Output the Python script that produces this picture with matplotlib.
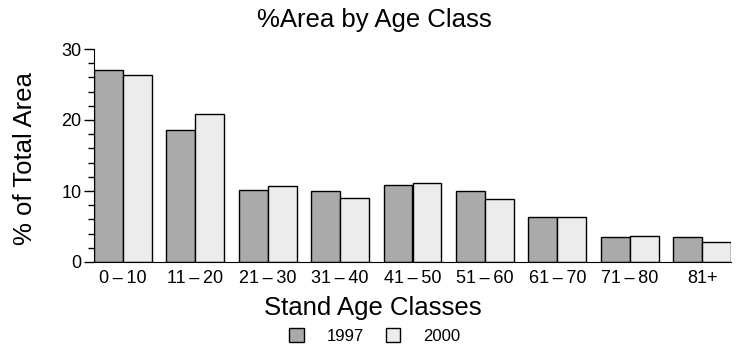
import matplotlib
matplotlib.use("Agg")
import matplotlib.pyplot as plt
import numpy as np
from matplotlib.patches import Patch
from matplotlib.ticker import MultipleLocator

plt.rcParams['font.family'] = ['Liberation Sans', 'DejaVu Sans']

# Datos
clases = ['0\u2009–\u200910', '11\u2009–\u200920', '21\u2009–\u200930', '31\u2009–\u200940',
          '41\u2009–\u200950', '51\u2009–\u200960', '61\u2009–\u200970', '71\u2009–\u200980', '81+']
area_1997 = [27.1, 18.6, 10.1, 10.0, 10.8, 10.0, 6.3, 3.5, 3.5]
area_2000 = [26.4, 20.9, 10.7, 9.0, 11.1, 8.9, 6.4, 3.6, 2.8]
series = ['1997', '2000']

W, H = 750, 350
fig = plt.figure(figsize=(W / 100, H / 100), dpi=100)
ax = fig.add_axes([94 / W, (H - 262) / H, (731 - 94) / W, (262 - 49) / H])

x = np.arange(len(clases))
ancho = 0.4
ax.bar(x - ancho / 2, area_1997, ancho, color='#aaaaaa', edgecolor='black', linewidth=1)
ax.bar(x + ancho / 2, area_2000, ancho, color='#ececec', edgecolor='black', linewidth=1)

ax.set_xlim(-0.4, len(clases) - 0.6)
ax.set_ylim(0, 30)
ax.set_xticks(x)
ax.set_xticklabels(clases, fontsize=13)
ax.set_yticks([0, 10, 20, 30])
ax.yaxis.set_minor_locator(MultipleLocator(2))
ax.tick_params(axis='x', length=0, pad=6)
ax.tick_params(axis='y', which='major', length=7, width=1, labelsize=13, pad=2)
ax.tick_params(axis='y', which='minor', length=4, width=1)
for lado in ['top', 'right']:
    ax.spines[lado].set_visible(False)

# Textos
fig.text(374 / W, 1 - 20 / H, '%Area by Age Class', ha='center', va='center', fontsize=18.5)
fig.text(373 / W, 1 - 308 / H, 'Stand Age Classes', ha='center', va='center', fontsize=18.5)
fig.text(25 / W, 1 - 159 / H, '% of Total Area', ha='center', va='center',
         rotation=90, fontsize=18.5)

manijas = [Patch(facecolor='#aaaaaa', edgecolor='black'),
           Patch(facecolor='#ececec', edgecolor='black')]
fig.legend(manijas, series, loc='center', bbox_to_anchor=(375 / W, 1 - 336 / H),
           ncol=2, frameon=False, fontsize=12, handlelength=0.85, handleheight=0.85,
           handletextpad=1.4, columnspacing=1.3, borderpad=0)

fig.savefig('out.png', dpi=100)
